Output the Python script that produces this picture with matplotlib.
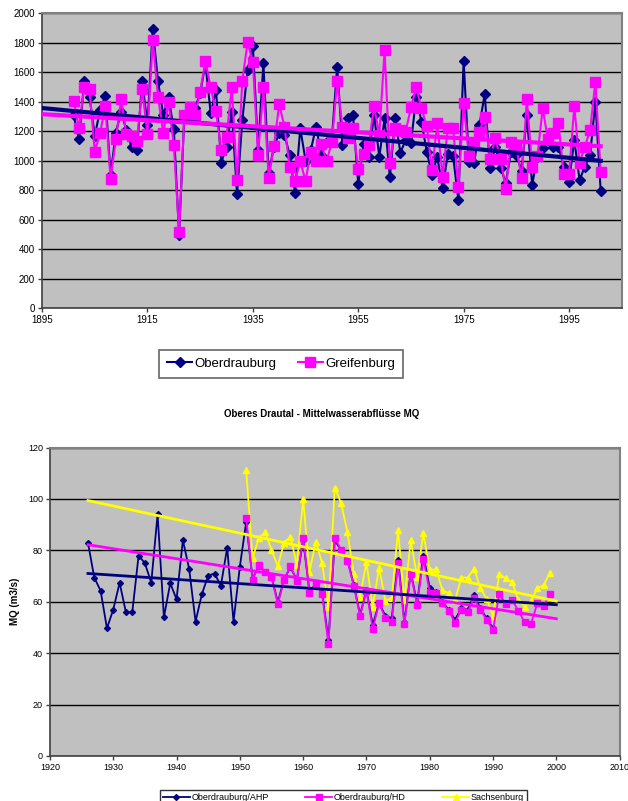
import numpy as np
import matplotlib.pyplot as plt

plt.rcParams["font.family"] = ["Liberation Sans", "DejaVu Sans"]

# --- top chart: annual values 1901-2001 ---
years_top = np.arange(1901, 2002)
oberdrauburg = [
    1309, 1144, 1539, 1433, 1167, 1343, 1440, 903, 1189, 1332,
    1207, 1090, 1072, 1542, 1241, 1896, 1539, 1309, 1429, 1212,
    497, 1309, 1343, 1354, 1456, 1659, 1320, 1478, 986, 1095,
    1332, 772, 1275, 1614, 1779, 1072, 1659, 914, 1095, 1185,
    1174, 1038, 783, 1219, 1000, 1072, 1230, 1038, 1128, 1150,
    1636, 1106, 1286, 1309, 840, 1110, 1027, 1309, 1027, 1286,
    887, 1286, 1054, 1140, 1117, 1433, 1264, 1061, 903, 1027,
    812, 1045, 1031, 734, 1677, 993, 982, 1241, 1451, 948,
    1095, 952, 851, 1061, 1038, 930, 1309, 835, 1027, 1083,
    1140, 1095, 1095, 959, 858, 1140, 869, 959, 1038, 1399,
    797,
]
greifenburg = [
    1406, 1219, 1496, 1483, 1061, 1185, 1370, 876, 1144, 1415,
    1180, 1167, 1133, 1483, 1180, 1817, 1433, 1189, 1395, 1106,
    515, 1307, 1361, 1307, 1467, 1675, 1496, 1336, 1070, 1162,
    1496, 869, 1542, 1803, 1668, 1038, 1496, 880, 1099, 1383,
    1230, 955, 862, 995, 862, 1061, 995, 1110, 995, 1128,
    1539, 1230, 1151, 1223, 943, 1043, 1106, 1370, 1174, 1749,
    982, 1223, 1207, 1196, 1361, 1496, 1354, 1235, 937, 1253,
    891, 1219, 1219, 819, 1388, 1031, 1117, 1196, 1298, 1009,
    1151, 1009, 806, 1128, 1095, 880, 1415, 959, 1031, 1354,
    1144, 1189, 1253, 907, 907, 1370, 982, 1095, 1207, 1535,
    925,
]

# --- bottom chart: MQ (m3/s) ---
years_ahp = np.arange(1926, 1991)
mq_ahp = [
    83, 69.4, 64.3, 49.7, 57, 67.4, 55.9, 55.9, 78, 75,
    67.4, 94, 54, 67.2, 61, 84, 72.6, 52.3, 63, 70.2,
    71, 66.3, 81, 52.3, 73.7, 91, 69, 74, 71.5, 69.8,
    59.8, 68.8, 73.5, 68.5, 84, 64, 67, 63.5, 45,
    84, 80, 76.5, 66.5, 55, 64.5, 51, 59.5, 54.5, 53.6,
    76.3, 52, 71.5, 59.5, 78, 65.5, 64, 59.8, 57, 53,
    57.5, 56.8, 62.6, 57.5, 53.5, 49.7,
]
years_hd = np.arange(1951, 2000)
mq_hd = [
    92.5, 68.5, 74.3, 71.7, 69.5, 59.1, 68.5, 74, 68.1, 85,
    63.6, 67.2, 62.9, 43.4, 85, 80.1, 76, 66.3, 54.5, 64.3,
    49.4, 59.4, 53.6, 52.3, 75, 51.2, 71, 58.8, 76.7, 63.6,
    63.6, 59.4, 56.6, 51.9, 57, 56.2, 61.3, 57, 52.9, 49,
    63, 59, 60.7, 56.6, 52, 51.4, 59.4, 58.4, 63,
]
years_sb = np.arange(1951, 2000)
mq_sb = [
    111.3, 77, 84.7, 87.3, 80.1, 73.9, 83, 85.3, 74.3, 100,
    71.7, 83.4, 75, 57.8, 104.4, 98.3, 87, 71, 62, 75.4,
    57.8, 73.3, 60.3, 61.6, 87.9, 60.7, 84, 69.8, 86.6, 72.4,
    72.6, 64.6, 63.3, 60.7, 69.4, 69.4, 72.8, 65.5, 61, 54.5,
    70.8, 69.1, 67.8, 60.7, 58.1, 60.3, 65.2, 66.5, 71.3,
]

NAVY = "#000080"
MAGENTA = "#FF00FF"
YELLOW = "#FFFF00"
BG = "#C0C0C0"


def trend(x, y, x0, x1):
    k, d = np.polyfit(x, y, 1)
    xs = np.array([x0, x1])
    return xs, k * xs + d


def style_axes(ax):
    ax.set_facecolor(BG)
    ax.grid(axis="y", color="black", linewidth=1)
    ax.set_axisbelow(True)
    for side in ["top", "right"]:
        ax.spines[side].set_color("#808080")
        ax.spines[side].set_linewidth(1.5)
    for side in ["left", "bottom"]:
        ax.spines[side].set_color("#404040")
        ax.spines[side].set_linewidth(1.2)
    ax.tick_params(length=3, width=1, color="#404040", labelsize=7, pad=2)


fig = plt.figure(figsize=(6.28, 8.01), dpi=100)

# top chart
ax1 = fig.add_axes([0.067, 0.6155, 0.923, 0.368])
style_axes(ax1)
ax1.plot(years_top, oberdrauburg, color=NAVY, linewidth=1.5, marker="D",
         markersize=5, label="Oberdrauburg", zorder=3)
ax1.plot(years_top, greifenburg, color=MAGENTA, linewidth=1.5, marker="s",
         markersize=6.5, label="Greifenburg", zorder=4)
tx, ty = trend(years_top, oberdrauburg, 1895, 2001)
ax1.plot(tx, ty, color=NAVY, linewidth=3, zorder=5)
tx, ty = trend(years_top, greifenburg, 1895, 2001)
ax1.plot(tx, ty, color=MAGENTA, linewidth=3, zorder=5)
ax1.set_xlim(1895, 2005)
ax1.set_ylim(0, 2000)
ax1.set_xticks(np.arange(1895, 2000, 20))
ax1.set_yticks(np.arange(0, 2001, 200))
leg1 = ax1.legend(loc="center", bbox_to_anchor=(0.448, 0.546),
                  bbox_transform=fig.transFigure, ncol=2, fontsize=9.5,
                  frameon=True, fancybox=False, edgecolor="#404040",
                  handlelength=1.9, columnspacing=1.6, handletextpad=0.2,
                  borderpad=0.6)
leg1.get_frame().set_linewidth(1.2)

# bottom chart
ax2 = fig.add_axes([0.0796, 0.0562, 0.907, 0.385])
style_axes(ax2)
ax2.tick_params(labelsize=6.5)
ax2.plot(years_ahp, mq_ahp, color=NAVY, linewidth=1.3, marker="D",
         markersize=3, label="Oberdrauburg/AHP", zorder=3)
ax2.plot(years_hd, mq_hd, color=MAGENTA, linewidth=1.3, marker="s",
         markersize=5, label="Oberdrauburg/HD", zorder=4)
ax2.plot(years_sb, mq_sb, color=YELLOW, linewidth=1.3, marker="^",
         markersize=5, label="Sachsenburg", zorder=2)
for x, y, c in [(years_sb, mq_sb, YELLOW), (years_hd, mq_hd, MAGENTA),
                (years_ahp, mq_ahp, NAVY)]:
    tx, ty = trend(x, y, 1926, 2000)
    ax2.plot(tx, ty, color=c, linewidth=2, zorder=5)
ax2.set_xlim(1920, 2010)
ax2.set_ylim(0, 120)
ax2.set_xticks(np.arange(1920, 2011, 10))
ax2.set_yticks(np.arange(0, 121, 20))
ax2.set_ylabel("MQ (m3/s)", fontsize=7, fontweight="bold", labelpad=6)
fig.text(0.512, 0.483, "Oberes Drautal - Mittelwasserabflüsse MQ",
         ha="center", va="center", fontsize=7, fontweight="bold")
leg2 = ax2.legend(loc="upper center", bbox_to_anchor=(0.547, 0.019),
                  bbox_transform=fig.transFigure, ncol=3, fontsize=6.5,
                  frameon=True, fancybox=False, edgecolor="black",
                  handlelength=3, columnspacing=4, handletextpad=0.2,
                  borderpad=0.3)
leg2.get_frame().set_linewidth(1)

fig.savefig("out.png", dpi=100)
